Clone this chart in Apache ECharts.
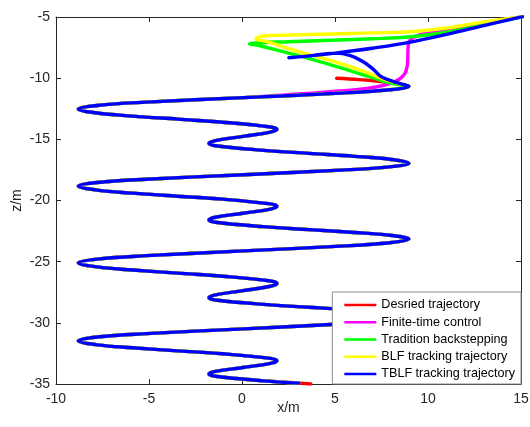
<!DOCTYPE html>
<html>
<head>
<meta charset="utf-8">
<script src="https://cdn.jsdelivr.net/npm/echarts@6/dist/echarts.min.js"></script>
<style>
  html, body { margin: 0; padding: 0; background: #fff; }
  #chart { width: 530px; height: 427px; }
</style>
</head>
<body>
<div id="chart"></div>
<script>
  // 图例名称与颜色
  const seriesNames = ['Desried trajectory', 'Finite-time control', 'Tradition backstepping', 'BLF tracking trajectory', 'TBLF tracking trajectory']
  const seriesColors = ['#ff0000', '#ff00ff', '#00ff00', '#ffff00', '#0000ff']

  // 坐标轴刻度
  const xTicks = [-10, -5, 0, 5, 10, 15]
  const zTicks = [-35, -30, -25, -20, -15, -10, -5]

  // 各曲线起始段 (x, z)
  const desiredStart = [[5.09, -10.01], [6.3, -10.12], [7.46, -10.28], [8.4, -10.45], [8.97, -10.66]]
  const finiteStart = [[15.09, -4.97], [13, -5.5], [11, -6.05], [10.0, -6.3], [9.3, -6.6], [9.0, -6.95], [8.93, -7.5],
    [8.9, -8.8], [8.72, -9.7], [8.2, -10.3], [6.9, -10.8], [4.76, -11.1], [2.5, -11.35]]
  const backStart = [[15.09, -4.97], [13, -5.65], [11, -6.25], [9.07, -6.61], [7, -6.78], [4.76, -6.9], [2.5, -7.02],
    [1.0, -7.1], [0.4, -7.2], [0.9, -7.33], [2.0, -7.75], [3.86, -8.5], [5.67, -9.33], [7.1, -10.0], [7.82, -10.35],
    [8.5, -10.55], [8.97, -10.66]]
  const blfStart = [[15.09, -4.97], [13, -5.4], [11, -5.9], [9.07, -6.2], [7, -6.3], [4.76, -6.39], [2.5, -6.48],
    [1.17, -6.55], [0.75, -6.78], [1.3, -7.0], [2.97, -7.8], [4.76, -8.55], [6.56, -9.45], [7.46, -10.0], [8.36, -10.42],
    [8.97, -10.66]]
  const tblfStart = [[15.09, -4.97], [13, -5.7], [11, -6.42], [9.07, -7.05], [7, -7.55], [5.0, -7.95], [3.5, -8.2],
    [2.52, -8.33], [3.5, -8.2], [5.0, -7.95], [5.84, -8.15], [6.56, -8.7], [7.1, -9.33], [7.46, -9.85], [8.0, -10.2],
    [8.5, -10.45], [8.97, -10.66]]
  const firstTurn = [[7.94, -10.95], [5.31, -11.22]]

  // 螺旋段 (各曲线重合部分)
  const spiral = [
    [0.09, -11.59], [-5.14, -11.96], [-7.78, -12.23], [-8.8, -12.52],
    [-7.78, -12.85], [-5.88, -13.10], [-3.46, -13.35], [-1.04, -13.60], [1.53, -13.99], [1.88, -14.18],
    [1.53, -14.41], [0.05, -14.76], [-1.43, -15.10], [-1.78, -15.33],
    [-1.43, -15.52], [1.16, -15.90], [3.6, -16.15], [6.04, -16.39], [7.94, -16.63], [8.97, -16.96],
    [7.94, -17.25], [5.31, -17.52], [0.09, -17.89], [-5.14, -18.26], [-7.78, -18.53], [-8.8, -18.82],
    [-7.78, -19.15], [-5.88, -19.40], [-3.46, -19.65], [-1.04, -19.89], [1.53, -20.28], [1.88, -20.47],
    [1.53, -20.70], [0.05, -21.04], [-1.43, -21.37], [-1.78, -21.6],
    [-1.43, -21.78], [1.16, -22.14], [3.6, -22.38], [6.04, -22.61], [7.94, -22.84], [8.97, -23.15],
    [7.94, -23.45], [5.31, -23.73], [0.09, -24.12], [-5.14, -24.51], [-7.78, -24.79], [-8.8, -25.09],
    [-7.78, -25.43], [-5.88, -25.68], [-3.46, -25.94], [-1.04, -26.19], [1.53, -26.58], [1.88, -26.78],
    [1.53, -27.01], [0.05, -27.37], [-1.43, -27.72], [-1.78, -27.95],
    [-1.43, -28.13], [1.16, -28.49], [3.6, -28.73], [6.04, -28.96], [7.94, -29.19], [8.97, -29.5],
    [7.94, -29.81], [5.31, -30.09], [0.09, -30.49], [-5.14, -30.88], [-7.78, -31.16], [-8.8, -31.47],
    [-7.78, -31.80], [-5.88, -32.04], [-3.46, -32.29], [-1.04, -32.53], [1.53, -32.91], [1.88, -33.1],
    [1.53, -33.32], [0.05, -33.65], [-1.43, -33.97], [-1.78, -34.19],
    [-1.43, -34.37], [1.16, -34.74]
  ]
  const desiredEnd = [[3.7, -35.0]]
  const trackEnd = [[3.05, -34.93]]

  const chartData = [
    desiredStart.concat(firstTurn, spiral, desiredEnd),
    finiteStart.concat(spiral, trackEnd),
    backStart.concat(firstTurn, spiral, trackEnd),
    blfStart.concat(firstTurn, spiral, trackEnd),
    tblfStart.concat(firstTurn, spiral, trackEnd)
  ]

  const textColor = '#262626'
  const font = 'Liberation Sans, Arial, Helvetica, sans-serif'

  function baseAxis (ticks, position, showLabel) {
    return {
      type: 'value',
      position: position,
      min: ticks[0],
      max: ticks[ticks.length - 1],
      interval: 5,
      axisLine: { show: true, onZero: false, lineStyle: { color: textColor, width: 1 } },
      axisTick: { show: true, inside: true, length: 5, lineStyle: { color: textColor } },
      axisLabel: { show: showLabel, color: textColor, fontSize: 14, fontFamily: font, margin: 8 },
      splitLine: { show: false }
    }
  }

  const myChart = echarts.init(document.getElementById('chart'))
  const xMain = baseAxis(xTicks, 'bottom', true)
  xMain.name = 'x/m'
  xMain.nameLocation = 'middle'
  xMain.nameGap = 17
  xMain.nameMoveOverlap = false
  xMain.nameTextStyle = { color: textColor, fontSize: 14, fontFamily: font }
  const yMain = baseAxis(zTicks, 'left', true)
  yMain.name = 'z/m'
  yMain.nameLocation = 'middle'
  yMain.nameGap = 32
  yMain.nameMoveOverlap = false
  yMain.nameTextStyle = { color: textColor, fontSize: 14, fontFamily: font }
  yMain.axisLabel.margin = 6

  const option = {
    animation: false,
    backgroundColor: '#fff',
    grid: { left: 56, right: 9, top: 17, bottom: 43, containLabel: false, outerBoundsMode: 'none' },
    xAxis: [xMain, baseAxis(xTicks, 'top', false)],
    yAxis: [yMain, baseAxis(zTicks, 'right', false)],
    legend: {
      orient: 'vertical',
      right: 9,
      bottom: 43,
      data: seriesNames,
      icon: 'rect',
      itemWidth: 32,
      itemHeight: 2.5,
      itemGap: 3.25,
      padding: [6, 6, 3, 12],
      backgroundColor: '#fff',
      borderColor: '#8c8c8c',
      borderWidth: 1,
      borderRadius: 0,
      textStyle: { color: '#000', fontSize: 12.6, fontFamily: font, lineHeight: 14 }
    },
    series: []
  }

  for (let i = 0; i < seriesNames.length; i++) {
    option.series.push({
      name: seriesNames[i],
      type: 'line',
      xAxisIndex: 0,
      yAxisIndex: 0,
      smooth: 0.4,
      showSymbol: false,
      symbol: 'none',
      color: seriesColors[i],
      lineStyle: { width: 3.4, color: seriesColors[i], cap: 'round', join: 'round' },
      data: chartData[i]
    })
  }

  myChart.setOption(option)
</script>
</body>
</html>
